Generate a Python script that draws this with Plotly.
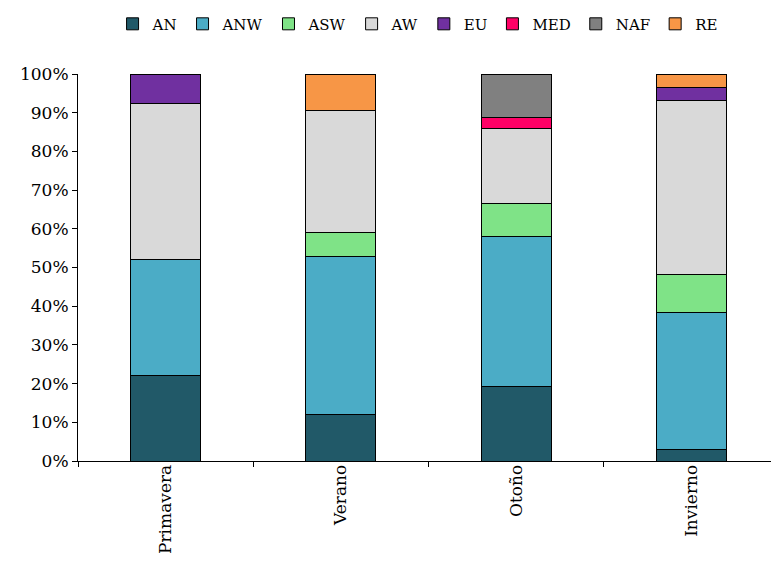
import plotly.graph_objects as go

seasons = ["Primavera", "Verano", "Otoño", "Invierno"]

# Share of each air-mass origin per season (%)
AN = [22.2, 12.1, 19.2, 2.9]
ANW = [29.9, 40.8, 38.8, 35.5]
ASW = [0.0, 6.2, 8.6, 9.7]
AW = [40.3, 31.5, 19.2, 45.1]
EU = [7.6, 0.0, 0.0, 3.2]
MED = [0.0, 0.0, 2.9, 0.0]
NAF = [0.0, 0.0, 11.3, 0.0]
RE = [0.0, 9.4, 0.0, 3.6]

series = [
    ("AN", AN, "#215968"),
    ("ANW", ANW, "#4BACC6"),
    ("ASW", ASW, "#7FE387"),
    ("AW", AW, "#D9D9D9"),
    ("EU", EU, "#7030A0"),
    ("MED", MED, "#FF0066"),
    ("NAF", NAF, "#808080"),
    ("RE", RE, "#F79646"),
]

font_family = "DejaVu Serif"

fig = go.Figure()
for name, vals, color in series:
    fig.add_trace(go.Bar(
        x=seasons,
        y=[v / 100 for v in vals],
        name=name,
        width=0.4,
        marker=dict(color=color, line=dict(color="black", width=1)),
    ))

fig.update_layout(
    barmode="stack",
    width=771,
    height=565,
    margin=dict(l=78, r=0, t=74, b=104),
    paper_bgcolor="white",
    plot_bgcolor="white",
    font=dict(family=font_family, size=16, color="black"),
    legend=dict(
        orientation="h",
        x=0.49, xanchor="center",
        y=1.129, yanchor="middle",
        font=dict(family=font_family, size=15),
        itemwidth=30,
        traceorder="normal",
    ),
    xaxis=dict(
        range=[-0.5, 3.454],
        showline=True, linecolor="black", linewidth=1,
        ticks="outside", tickson="boundaries", ticklen=5, tickcolor="black",
        tickangle=-90,
        ticklabelstandoff=-4,
        showgrid=False,
        tickfont=dict(family=font_family, size=17),
    ),
    yaxis=dict(
        range=[0, 1],
        tickformat=".0%",
        dtick=0.1,
        showline=True, linecolor="black", linewidth=1,
        ticks="outside", ticklen=5, tickcolor="black",
        showgrid=False, zeroline=False,
        tickfont=dict(family=font_family, size=17),
    ),
)

fig.write_html("out.html")
